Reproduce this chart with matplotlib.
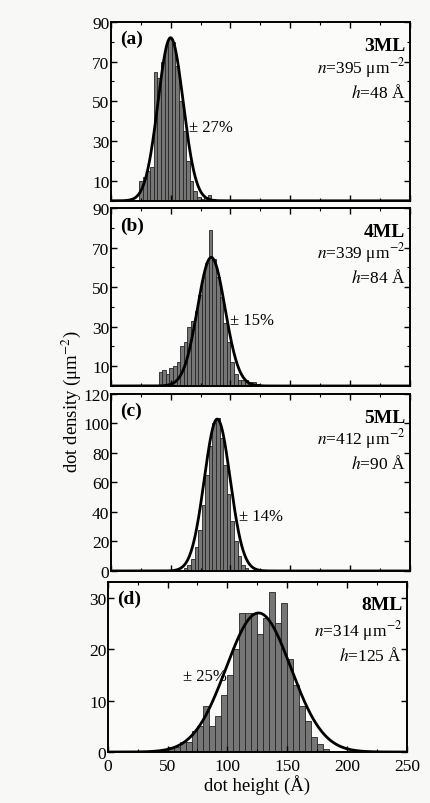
import matplotlib
matplotlib.use("Agg")
import matplotlib.pyplot as plt
import numpy as np
from matplotlib.ticker import MultipleLocator

plt.rcParams['font.family'] = ['Liberation Serif', 'DejaVu Serif']
plt.rcParams['mathtext.fontset'] = 'stix'

# histogram counts per bin (left edge of each bin in Angstrom)
bins_3ml = [24, 27, 30, 33, 36, 39, 42, 45, 48, 51, 54, 57, 60, 63, 66, 69, 72, 75, 78, 81, 84]
dens_3ml = [10, 12, 15, 17, 65, 62, 70, 78, 82, 80, 68, 50, 35, 20, 10, 5, 2, 1, 2, 3, 1]

bins_4ml = [40, 43, 46, 49, 52, 55, 58, 61, 64, 67, 70, 73, 76, 79, 82, 85, 88, 91, 94,
            97, 100, 103, 106, 109, 112, 115, 118, 121]
dens_4ml = [7, 8, 6, 9, 10, 12, 20, 22, 30, 33, 38, 46, 55, 62, 79, 64, 55, 45, 32,
            22, 12, 6, 3, 3, 3, 2, 2, 1]

bins_5ml = [61, 64, 67, 70, 73, 76, 79, 82, 85, 88, 91, 94, 97, 100, 103, 106, 109, 112]
dens_5ml = [2, 4, 8, 16, 28, 45, 65, 85, 100, 104, 90, 72, 52, 34, 20, 10, 4, 2]

bins_8ml = [45, 50, 55, 60, 65, 70, 75, 80, 85, 90, 95, 100, 105, 110, 115, 120, 125,
            130, 135, 140, 145, 150, 155, 160, 165, 170, 175, 180]
dens_8ml = [0.5, 1, 1, 2, 2, 4, 5, 9, 5, 7, 11, 15, 20, 27, 27, 27, 23,
            26, 31, 25, 29, 18, 13, 9, 6, 3, 1.5, 0.5]

# gaussian fits: centre, sigma, peak height
fit_3ml = (50, 10.5, 82)
fit_4ml = (84, 11.5, 65)
fit_5ml = (89, 10.8, 103)
fit_8ml = (126, 27.0, 27)

labels = ['(a)', '(b)', '(c)', '(d)']
layers = ['3ML', '4ML', '5ML', '8ML']
n_text = ['395', '339', '412', '314']
h_text = ['48', '84', '90', '125']
spread = ['\u00b1 27%', '\u00b1 15%', '\u00b1 14%', '\u00b1 25%']

panels = [
    (bins_3ml, dens_3ml, 3, fit_3ml, (0, 90), [10, 30, 50, 70, 90], (0.26, 0.41), 0.75, 0.61),
    (bins_4ml, dens_4ml, 3, fit_4ml, (0, 90), [10, 30, 50, 70, 90], (0.40, 0.37), 0.75, 0.61),
    (bins_5ml, dens_5ml, 3, fit_5ml, (0, 120), [0, 20, 40, 60, 80, 100, 120], (0.43, 0.31), 0.75, 0.61),
    (bins_8ml, dens_8ml, 5, fit_8ml, (0, 33), [0, 10, 20, 30], (0.25, 0.45), 0.72, 0.57),
]

fig = plt.figure(figsize=(4.31, 8.04), dpi=100)
fig.patch.set_facecolor('#f8f8f6')

rects = [
    [0.257, 0.749, 0.694, 0.2226],
    [0.257, 0.5187, 0.694, 0.2214],
    [0.257, 0.2886, 0.694, 0.2201],
    [0.250, 0.0634, 0.694, 0.2114],
]

xs = np.linspace(0, 250, 600)

for i, (bins, dens, w, fit, ylim, yt, spos, ny, hy) in enumerate(panels):
    ax = fig.add_axes(rects[i])
    ax.set_facecolor('#fbfbf9')
    ax.bar(bins, dens, width=w, align='edge', color='#767676',
           edgecolor='#262626', linewidth=0.6)
    mu, sig, amp = fit
    ax.plot(xs, amp * np.exp(-(xs - mu) ** 2 / (2 * sig ** 2)), color='black', lw=2.0)

    ax.set_xlim(0, 250)
    ax.set_ylim(*ylim)
    ax.set_yticks(yt)
    ax.xaxis.set_major_locator(MultipleLocator(50))
    ax.xaxis.set_minor_locator(MultipleLocator(25))
    ax.yaxis.set_minor_locator(MultipleLocator(yt[1] - yt[0]))
    ax.tick_params(which='both', direction='in', top=True, right=True)
    ax.tick_params(which='major', length=4, width=1, labelsize=12.5, pad=1)
    ax.tick_params(axis='x', which='major', pad=4)
    ax.tick_params(which='minor', length=2, width=0.8)
    for s in ax.spines.values():
        s.set_linewidth(1.4)

    if i < 3:
        ax.tick_params(labelbottom=False)
    else:
        ax.set_xlabel('dot height (\u00c5)', fontsize=13.5, labelpad=0)

    ax.text(0.03, 0.905, labels[i], transform=ax.transAxes, fontsize=14,
            fontweight='bold', va='center', ha='left')
    ax.text(0.985, 0.87, layers[i], transform=ax.transAxes, fontsize=14,
            fontweight='bold', va='center', ha='right')
    ax.text(0.985, ny, r'$n$=' + n_text[i] + r' μm$^{-2}$', transform=ax.transAxes,
            fontsize=12.5, va='center', ha='right')
    ax.text(0.985, hy, r'$h$=' + h_text[i] + ' \u00c5', transform=ax.transAxes,
            fontsize=12.5, va='center', ha='right')
    ax.text(spos[0], spos[1], spread[i], transform=ax.transAxes,
            fontsize=12, va='center', ha='left')

fig.text(0.165, 0.50, r'dot density (μm$^{-2}$)', rotation=90,
         fontsize=13.5, va='center', ha='center')

fig.savefig('out.png', dpi=100, facecolor=fig.get_facecolor())
